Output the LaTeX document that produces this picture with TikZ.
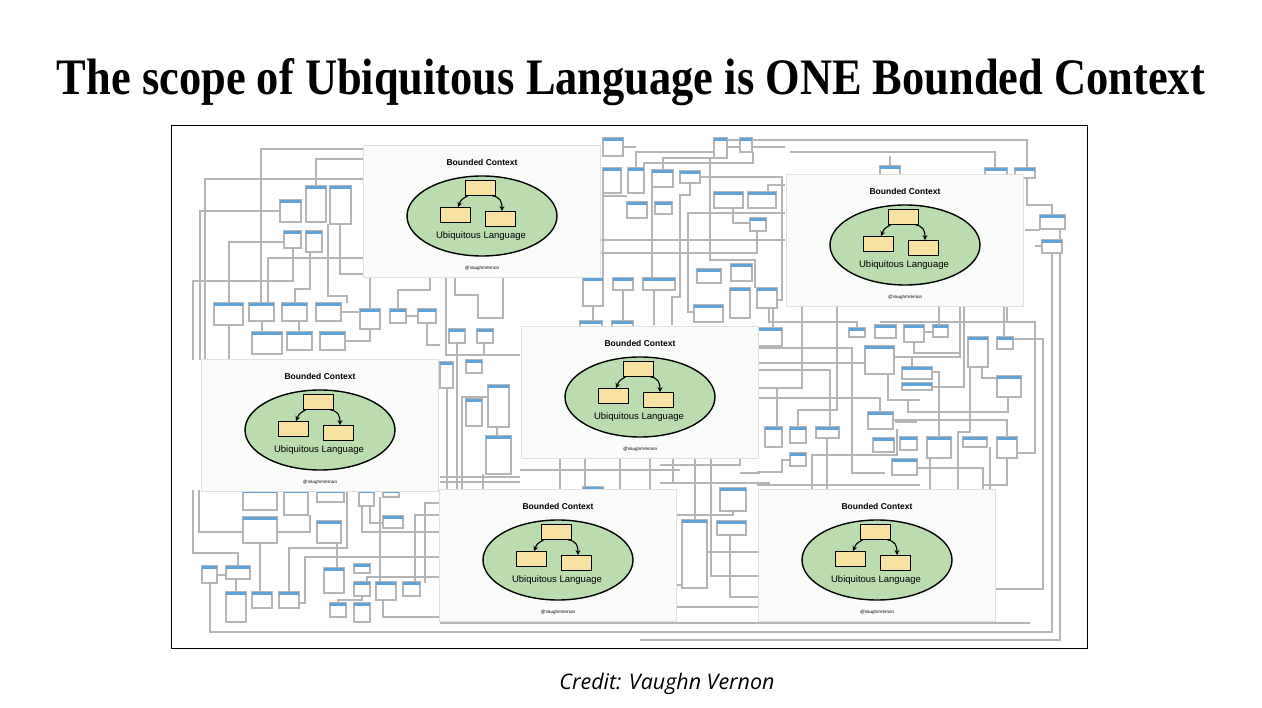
\documentclass[tikz,border=0pt]{standalone}
\usepackage{fontspec}
\setmainfont{Liberation Serif}
\newfontfamily\capfont{Open Sans}
\newfontfamily\cardfont{Liberation Sans}
\usetikzlibrary{shapes.geometric,arrows.meta}
\definecolor{wiregray}{HTML}{B5B5B5}
\definecolor{barblue}{HTML}{5FA3D8}
\definecolor{ctxgreen}{HTML}{BADCAE}
\definecolor{entyellow}{HTML}{F8E2A2}
\definecolor{cardwhite}{HTML}{FAFCFA}

\tikzset{
  wire/.style={draw=wiregray,line width=1.5pt},
  cls/.style={draw=wiregray,fill=white,line width=1.5pt},
  card/.style={draw=black!12,fill=cardwhite,line width=0.4pt,minimum width=237pt,minimum height=132pt,inner sep=0pt},
  context/.style={ellipse,draw,fill=ctxgreen,line width=1.4pt,minimum width=150pt,minimum height=80pt,inner sep=0pt},
  entity/.style={draw,fill=entyellow,line width=0.8pt,minimum width=30pt,minimum height=15pt,inner sep=0pt},
  ctxtitle/.style={font=\cardfont\bfseries\fontsize{8.5}{9}\selectfont,inner sep=0pt},
  lang/.style={font=\cardfont\fontsize{9.5}{10}\selectfont,inner sep=0pt},
  handle/.style={font=\cardfont\fontsize{4.5}{5}\selectfont,inner sep=0pt},
  rel/.style={-{Stealth[length=5pt,width=5pt]},line width=1.1pt}
}

\newcommand{\bctx}[3]{%
  \begin{scope}[shift={(#2,#3)}]
    \node[card] (#1) at (-0.5,-5) {};
    \node[ctxtitle] (#1-title) at (0,-54) {Bounded Context};
    \node[context] (#1-ell) at (0,0) {};
    \node[entity] (#1-top) at (-2,-28) {};
    \node[entity] (#1-left) at (-27,-1) {};
    \node[entity] (#1-right) at (18,3) {};
    \node[lang] (#1-lang) at (-1,20) {Ubiquitous Language};
    \node[handle] (#1-handle) at (0,52) {@VaughnVernon};
    \draw[rel] ([xshift=3pt]#1-top.south west) .. controls +(-7,4) and +(3,-7) .. ([xshift=3pt]#1-left.north);
    \draw[rel] ([xshift=-3pt]#1-top.south east) .. controls +(8,1) and +(0,-9) .. ([xshift=2pt]#1-right.north);
  \end{scope}}

\begin{document}
\begin{tikzpicture}[x=1pt,y=-1pt]
  \useasboundingbox (0,0) rectangle (1262,708);
  \fill[white] (0,0) rectangle (1262,708);
  \draw[fill=white,line width=0.8pt] (171,125) rectangle (1087,648);

  \draw[wire]
    (261,303)--(261,149)--(363,149)
    (205,360)--(205,179)--(363,179)
    (200,360)--(200,211)--(280,211)
    (316,186)--(316,159)--(363,159)
    (229,303)--(229,242)--(284,242)
    (268,303)--(268,258)--(363,258)
    (293,248)--(293,281)--(193,281)--(193,360)
    (310,252)--(310,289)--(295,289)--(295,303)
    (340,224)--(340,274)--(363,274)
    (328,224)--(328,296)--(347,296)--(347,303)
    (341,312)--(360,312)
    (229,325)--(229,360) (262,321)--(262,332) (299,321)--(299,332)
    (345,341)--(370,341)--(370,329) (406,316)--(418,316)
    (370,309)--(370,277) (398,309)--(398,290)--(430,290)--(430,277)
    (427,323)--(427,345)--(440,345);
  \draw[wire]
    (455,277)--(455,295)--(478,295)--(478,318)--(503,318)--(503,277)
    (446,277)--(446,355)--(520,355)
    (457,343)--(457,490) (484,343)--(484,355)
    (447,388)--(447,490)
    (462,490)--(462,397)--(488,397)
    (497,427)--(497,436) (483,474)--(483,490)
    (440,477)--(520,477) (440,482)--(520,482);
  \draw[wire]
    (636,168)--(636,152)--(714,152)
    (663,170)--(663,158)--(714,158)
    (644,168)--(644,163)--(753,163)--(753,152)
    (700,177)--(782,177)--(782,300)--(777,300)
    (727,147)--(785,147)
    (785,213)--(688,213)--(688,312)--(694,312)
    (600,240)--(785,240)
    (600,253)--(757,253)--(757,231)
    (652,187)--(652,278)
    (710,158)--(710,260)--(755,260)--(755,288)
    (690,183)--(690,195)--(680,195)--(680,297)--(672,297)--(672,325)
    (654,290)--(654,325)
    (733,208)--(733,223)--(750,223)
    (768,208)--(768,185)--(785,185)
    (603,193)--(603,278) (603,196)--(627,196)
    (623,147)--(636,147)
    (593,306)--(593,321) (623,290)--(623,321);
  \draw[wire]
    (727,140)--(1027,140)--(1027,205)--(1052,205)--(1052,215)
    (790,152)--(995,152)--(995,168)
    (890,166)--(890,156)
    (1052,253)--(1052,632)--(210,632)--(210,583)
    (1060,228)--(1060,640)--(640,640)
    (1025,230)--(1040,230)
    (1035,246)--(1042,246)
    (1007,305)--(1007,322);
  \draw[wire]
    (939,306)--(939,325)
    (960,306)--(960,357)--(912,357)--(912,367)
    (964,306)--(964,387)--(932,387)
    (880,322)--(1035,322)--(1035,453)--(1017,453)
    (1004,306)--(1004,337)
    (1013,339)--(1043,339)--(1043,589)--(995,589)
    (982,367)--(982,378)--(997,378)
    (970,367)--(970,432)--(958,432)--(958,490)
    (1008,397)--(1008,412)--(908,412)--(908,400)
    (932,372)--(939,372)--(939,437)
    (893,420)--(1007,420)--(1007,485)--(983,485)
    (930,458)--(930,490)
    (917,468)--(983,468)--(983,490)
    (990,447)--(990,490)
    (924,332)--(933,332)
    (914,342)--(914,353)--(960,353);
  \draw[wire]
    (769,309)--(769,322)--(857,322)--(857,328)
    (802,305)--(802,388)--(757,388)
    (837,305)--(837,410)--(798,410)--(798,427)
    (757,348)--(852,348)--(852,473)--(885,473)
    (757,363)--(865,363)
    (757,370)--(830,370)--(830,427)
    (757,398)--(880,398)--(880,412)
    (777,388)--(777,427)
    (757,472)--(782,472)--(782,460)--(790,460)
    (812,490)--(812,455)--(897,455)--(897,429)
    (827,438)--(827,490)
    (894,357)--(916,357)
    (888,374)--(888,400)--(920,400)
    (757,485)--(920,485)
    (895,422)--(917,422)
    (773,309)--(773,328);
  \draw[wire]
    (660,465)--(740,465)--(740,457)
    (740,473)--(760,473)
    (660,483)--(770,483)
    (695,457)--(695,520)
    (711,457)--(711,576)--(760,576)
    (673,457)--(673,483)
    (677,515)--(733,515)--(733,511)
    (707,552)--(760,552)
    (730,535)--(730,597)--(760,597)
    (677,607)--(760,607)
    (677,585)--(682,585)
    (440,623)--(1030,623)
    (560,457)--(560,490) (585,457)--(585,490) (620,457)--(620,490) (650,457)--(650,490)
    (520,470)--(680,470);
  \draw[wire]
    (199,490)--(199,532)--(243,532)
    (193,490)--(193,553)--(238,553)--(238,566)
    (260,543)--(260,592)
    (277,532)--(310,532)--(310,515)
    (289,592)--(289,548)--(347,548)--(347,490)
    (440,557)--(305,557)--(305,603)--(299,603)
    (337,543)--(337,568)
    (362,506)--(362,532)--(440,532)
    (370,506)--(370,523)--(383,523)
    (380,497)--(380,582)
    (440,503)--(425,503)--(425,583)
    (440,515)--(415,515)--(415,582)
    (367,582)--(367,577)--(440,577)
    (362,596)--(362,600)--(338,600)--(338,603)
    (383,600)--(383,617)--(440,617)
    (217,575)--(226,575)
    (236,579)--(236,592);

  \foreach \x/\y/\w/\h in {
    280/200/21/22, 306/186/20/36, 330/186/21/38, 284/231/17/17, 306/231/16/21,
    214/303/29/22, 249/303/25/18, 282/303/25/18, 316/303/25/18,
    252/332/30/22, 287/332/25/18, 320/332/25/18,
    360/309/20/20, 390/309/16/14, 418/309/18/14,
    449/329/16/14, 477/329/16/14, 440/362/13/26, 466/360/16/13,
    488/385/21/42, 466/399/16/27, 486/436/25/38,
    603/138/20/18, 603/168/18/25, 628/168/16/25, 652/170/21/17, 680/171/20/12,
    627/202/20/16, 655/202/17/12, 714/138/13/20, 740/138/12/14,
    714/192/29/16, 748/192/28/16, 750/218/16/13, 697/269/24/14, 731/264/21/17,
    730/288/20/30, 757/288/20/20, 694/305/29/17, 583/278/20/28, 613/278/20/12,
    643/278/32/12, 580/321/22/10, 612/321/21/10,
    880/166/20/10, 985/168/22/10, 1015/168/20/10, 1040/215/25/14, 1042/240/20/13,
    758/328/24/18, 849/328/16/9, 875/325/21/13, 904/325/20/17, 933/325/15/12,
    865/346/29/28, 902/367/30/12, 902/383/30/7, 968/337/20/30, 997/337/16/12,
    997/376/24/21, 868/412/25/17, 765/427/17/20, 790/427/16/16, 816/427/23/11,
    873/438/21/14, 900/437/17/13, 927/437/24/21, 963/437/24/10, 997/437/20/21,
    892/459/25/16, 790/453/16/13,
    720/488/26/23, 682/520/25/68, 717/521/29/14, 583/487/20/8,
    243/490/34/20, 284/490/24/25, 317/490/27/12, 359/490/15/16, 383/490/16/7,
    243/517/34/26, 317/521/24/22, 383/516/20/12, 202/566/15/17, 226/566/24/13,
    324/568/20/25, 354/564/16/9, 354/582/16/14, 376/582/20/18, 403/582/17/14,
    226/592/20/30, 252/592/20/16, 279/592/20/16, 330/603/16/14, 354/603/16/19}
  {
    \draw[cls] (\x,\y) rectangle ++(\w,\h);
    \fill[barblue] (\x,\y) rectangle ++(\w,3);
  }

  \bctx{bc1}{482}{216}
  \bctx{bc2}{905}{245}
  \bctx{bc3}{640}{397}
  \bctx{bc4}{320}{430}
  \bctx{bc5}{558}{560}
  \bctx{bc6}{877}{560}

  \node[anchor=base,inner sep=0pt] (title) at (631,95)
    {\resizebox{1148pt}{36pt}{\bfseries The scope of Ubiquitous Language is ONE Bounded Context}};
  \node[anchor=base,inner sep=0pt] (credit) at (667,689)
    {\resizebox{215pt}{!}{\capfont\itshape Credit: Vaughn Vernon}};
\end{tikzpicture}
\end{document}
